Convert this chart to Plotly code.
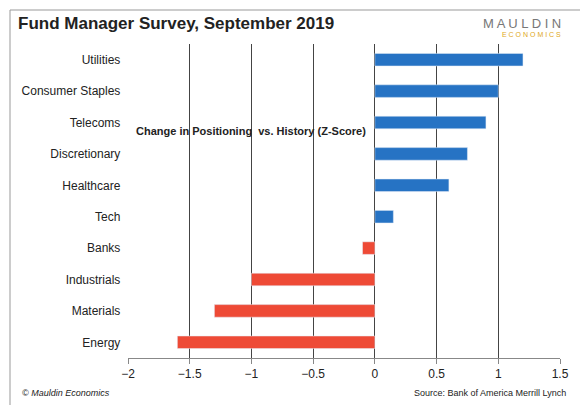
import plotly.graph_objects as go

categories = ["Energy","Materials","Industrials","Banks","Tech","Healthcare","Discretionary","Telecoms","Consumer Staples","Utilities"]
values = [-1.6,-1.3,-1.0,-0.1,0.15,0.6,0.75,0.9,1.0,1.2]
colors = ["#2673c4" if v > 0 else "#ee4a36" for v in values]

W, H, L, T, B = 432, 314, 120, 36, 55
def px(x): return (x - L) / W
def py(y): return (405 - B - y) / H

fig = go.Figure(go.Bar(y=categories, x=values, orientation="h", marker_color=colors, width=0.4))
fig.update_layout(
    width=588, height=405, paper_bgcolor="white", plot_bgcolor="white",
    margin=dict(l=L, r=36, t=T, b=B), showlegend=False,
    font=dict(family="Liberation Sans", color="#222", size=12),
    xaxis=dict(range=[-2,1.5], dtick=0.5, showgrid=True, gridcolor="#444", gridwidth=1,
               zeroline=False, showline=True, linecolor="#888", ticks="outside", tickcolor="#888",
               tickfont=dict(size=12)),
    yaxis=dict(showgrid=False, ticks="", tickfont=dict(size=12), ticksuffix="  "),
    annotations=[
        dict(text="<b>Fund Manager Survey, September 2019</b>", x=px(8), y=py(4), xref="paper", yref="paper",
             xanchor="left", yanchor="top", showarrow=False, font=dict(size=17, color="#222")),
        dict(text="M A U L D I N", x=px(555), y=py(6), xref="paper", yref="paper", xanchor="right", yanchor="top",
             showarrow=False, font=dict(size=13, color="#777")),
        dict(text="E C O N O M I C S", x=px(555), y=py(21), xref="paper", yref="paper", xanchor="right", yanchor="top",
             showarrow=False, font=dict(size=7, color="#e0a820")),
        dict(text="<b>Change in Positioning  vs. History (Z-Score)</b>", x=-1.95, y="Telecoms", xref="x", yref="y",
             xanchor="left", yanchor="top", showarrow=False, font=dict(size=11, color="#222")),
        dict(text="<i>© Mauldin Economics</i>", x=px(12), y=py(378), xref="paper", yref="paper", xanchor="left", yanchor="top",
             showarrow=False, font=dict(size=9, color="#222")),
        dict(text="Source: Bank of America Merrill Lynch", x=px(560), y=py(378), xref="paper", yref="paper", xanchor="right", yanchor="top",
             showarrow=False, font=dict(size=9, color="#222")),
    ],
    shapes=[dict(type="rect", xref="paper", yref="paper", x0=px(2), x1=px(586), y0=py(398), y1=py(2),
                 line=dict(color="#999", width=1))]
)
fig.write_html("out.html")
